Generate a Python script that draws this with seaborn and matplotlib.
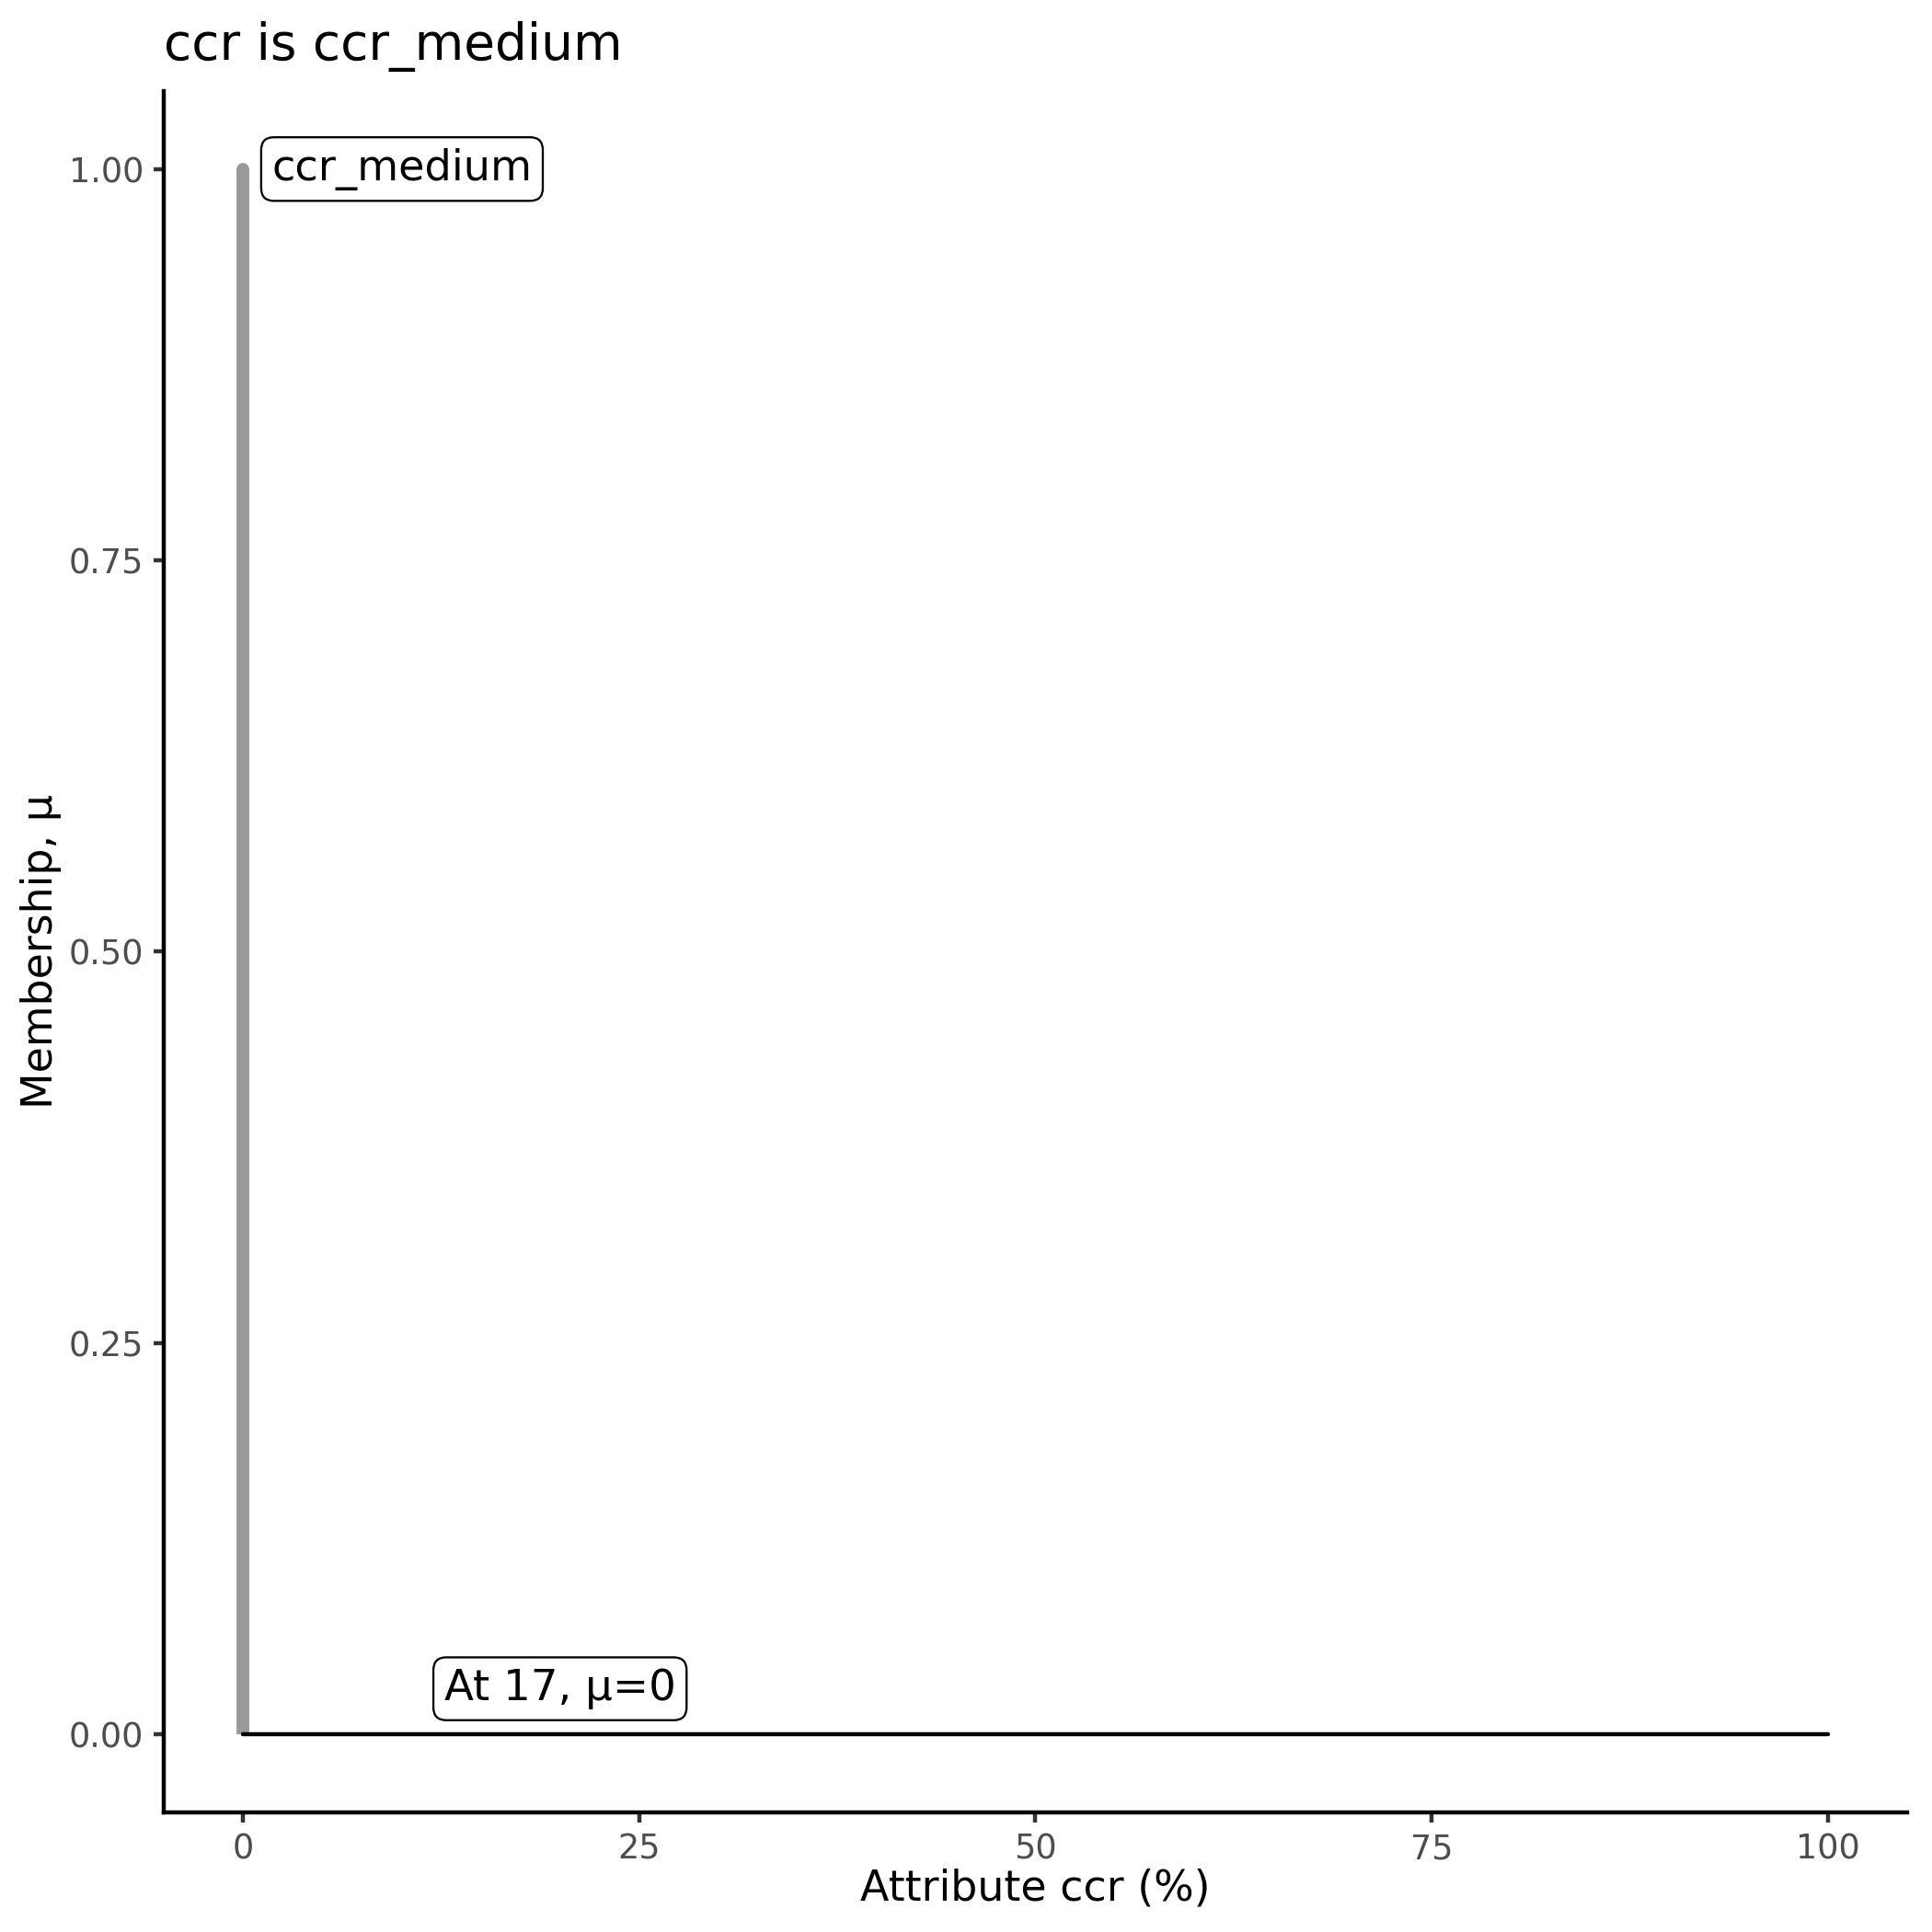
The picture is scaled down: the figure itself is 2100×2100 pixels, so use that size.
import matplotlib
matplotlib.use("Agg")
import matplotlib.pyplot as plt
import seaborn as sns

# ==========================================
# Data
# ==========================================

# membership function of ccr_medium (gray)
mf_x = [0, 0]
mf_y = [0, 1]

# evaluated value line (black)
val_x = [0, 100]
val_y = [0, 0]

title = "ccr is ccr_medium"
set_label = "ccr_medium"
set_label_x = 0
set_label_y = 1.0
value_label = "At 17, \u03bc=0"
value_label_x = 20
value_label_y = 0.029

x_ticks = [0, 25, 50, 75, 100]
y_ticks = [0.00, 0.25, 0.50, 0.75, 1.00]

# ==========================================
# Plot
# ==========================================

sns.set_theme(style="ticks")
plt.rcParams["font.family"] = ["DejaVu Sans"]

fig = plt.figure(figsize=(7, 7), dpi=300)
ax = fig.add_axes([0.0848, 0.0619, 0.9022, 0.8911])

# gray membership line, square bottom + rounded top
sns.lineplot(
    x=mf_x, y=mf_y, ax=ax,
    estimator=None, sort=False,
    color="#999999", linewidth=3.3
)
ax.lines[-1].set_solid_capstyle("butt")
sns.lineplot(
    x=mf_x, y=[mf_y[1] - 0.001, mf_y[1]], ax=ax,
    estimator=None, sort=False,
    color="#999999", linewidth=3.3
)
ax.lines[-1].set_solid_capstyle("round")

sns.lineplot(
    x=val_x, y=val_y, ax=ax,
    estimator=None, sort=False,
    color="black", linewidth=1.07
)

box = dict(boxstyle="round,pad=0.25,rounding_size=0.3", fc="white",
           ec="black", lw=0.55)

ax.annotate(
    set_label, xy=(set_label_x, set_label_y),
    xytext=(7.5, 0), textcoords="offset points",
    ha="left", va="center", fontsize=11.1, color="black", bbox=box
)
ax.text(
    value_label_x, value_label_y, value_label,
    ha="center", va="center", fontsize=11.2, color="black", bbox=box
)

ax.set_xlim(-5, 105)
ax.set_ylim(-0.05, 1.05)
ax.set_xticks(x_ticks)
ax.set_xticklabels([str(t) for t in x_ticks])
ax.set_yticks(y_ticks)
ax.set_yticklabels([f"{t:.2f}" for t in y_ticks])

ax.tick_params(axis="both", labelsize=8.8, labelcolor="#4D4D4D",
               color="#333333", length=2.75, width=1.07, pad=2.5)

for s in ["top", "right"]:
    ax.spines[s].set_visible(False)
for s in ["left", "bottom"]:
    ax.spines[s].set_color("black")
    ax.spines[s].set_linewidth(1.07)

ax.set_xlabel("Attribute ccr (%)", fontsize=11, color="black")
ax.set_ylabel("Membership, \u03bc", fontsize=11, color="black")
ax.xaxis.set_label_coords(0.5, -0.0445)
ax.yaxis.set_label_coords(-0.0705, 0.5)
ax.xaxis.label.set_va("center")
ax.yaxis.label.set_va("center")
ax.set_title(title, loc="left", fontsize=13.2, color="black", pad=8)

fig.savefig("out.png", dpi=300, facecolor="white")
